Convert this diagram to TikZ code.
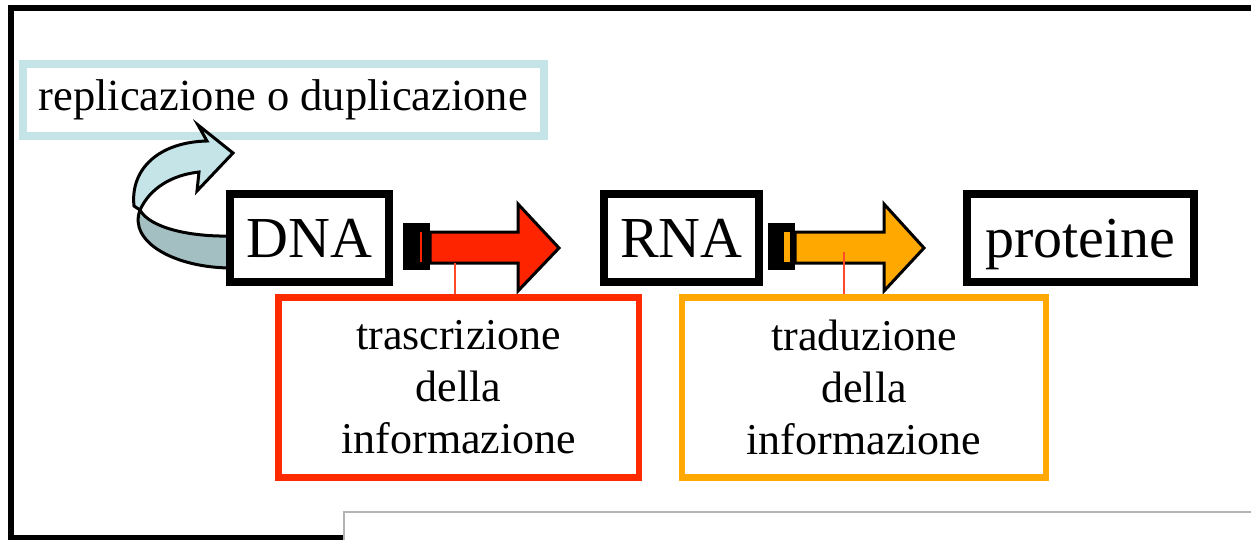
\documentclass[tikz,border=0pt]{standalone}
\usepackage{fontspec}
\setmainfont{Liberation Serif}
\definecolor{lblue}{HTML}{C5E4E8}
\definecolor{cdark}{HTML}{A3BFC2}
\definecolor{cred}{HTML}{FF2400}
\definecolor{cboxred}{HTML}{FF2A00}
\definecolor{corange}{HTML}{FFA800}
\definecolor{cline}{HTML}{FF4A2A}
\definecolor{cgray}{HTML}{B4B4B4}
\begin{document}
\begin{tikzpicture}[x=1pt,y=-1pt,
  termbox/.style={draw=black,line width=8pt,inner sep=0pt,minimum height=88pt,
    text height=39pt,text depth=0pt,font=\fontsize{58}{60}\selectfont},
  infobox/.style={line width=6.5pt,inner sep=0pt,minimum height=180pt,align=center,
    font=\fontsize{44}{52}\selectfont},
  blockarrow/.style={draw=black,line width=3pt,line join=miter},
  leader/.style={draw=cline,line width=1.5pt}]
\useasboundingbox (0,0) rectangle (1251,539);
\clip (0,0) rectangle (1251,539);
% outer frame
\draw[line width=5.5pt] (11,8) rectangle (1270,538);
% replication box
\node[draw=lblue,line width=8pt,inner sep=0pt,minimum width=521.5pt,minimum height=72pt,
  font=\fontsize{44.5}{52}\selectfont] (rep) at (283.25,100) {replicazione o duplicazione};
% curved arrow
\filldraw[fill=cdark,draw=black,line width=3pt,line join=round]
  (232,236) .. controls (190,237) and (150,228) .. (140,210)
  .. controls (128,242) and (175,268) .. (232,268) -- cycle;
\filldraw[fill=lblue,draw=black,line width=3pt,line join=miter]
  (140,210) .. controls (150,188) and (172,175) .. (199,172)
  -- (197,191) -- (233,153) -- (198,125) -- (207,141)
  .. controls (160,142) and (130,168) .. (134,206) -- cycle;
% term boxes
\node[termbox,fill=white,minimum width=159.5pt] (dna) at (309.25,237.5) {DNA};
\node[termbox,fill=white,minimum width=155pt] (rna) at (681.5,237.5) {RNA};
\node[termbox,fill=white,minimum width=227pt] (prot) at (1080.5,237.5) {proteine};
% red block arrow
\fill[black] (403,223) rectangle (430,270);
\draw[cred,line width=2pt] (420.5,232) -- (420.5,262);
\filldraw[blockarrow,fill=cred] (430,232) -- (518,232) -- (518,204) -- (559,248)
  -- (518,291) -- (518,263) -- (430,263) -- cycle;
\coordinate (ra) at (455,263);
% orange block arrow
\fill[black] (768,223) rectangle (795,270);
\fill[corange] (784,232) rectangle (790,262);
\filldraw[blockarrow,fill=corange] (795,232) -- (884,232) -- (884,204) -- (924,248)
  -- (884,291) -- (884,263) -- (795,263) -- cycle;
\coordinate (oa) at (844,252);
% info boxes
\node[infobox,draw=cboxred,minimum width=360.5pt] (tras) at (458.75,387.5)
  {trascrizione\\della\\informazione};
\node[infobox,draw=corange,minimum width=364pt] (trad) at (864,387.5)
  {traduzione\\della\\informazione};
% leaders
\draw[leader] (ra) -- (ra |- tras.north);
\draw[leader] (oa) -- (oa |- trad.north);
% overlapping window
\filldraw[fill=white,draw=cgray,line width=2pt] (344,512) rectangle (1280,580);
\end{tikzpicture}
\end{document}
